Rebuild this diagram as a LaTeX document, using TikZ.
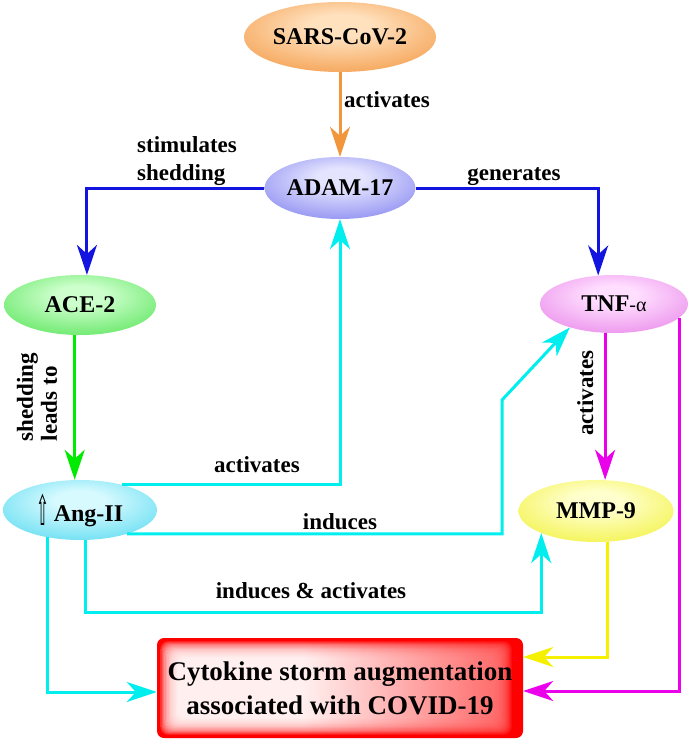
\documentclass[tikz,border=0pt]{standalone}
\usepackage{fontspec}
\setmainfont{Liberation Serif}
\newfontfamily\dejavu{DejaVu Sans}
\usetikzlibrary{shapes.geometric,arrows.meta}
\colorlet{ellin}{white}
\colorlet{ellout}{gray}
\pgfdeclareradialshading[ellin,ellout]{ellsh}{\pgfpoint{0bp}{9bp}}{color(0bp)=(ellin); color(8bp)=(ellin); color(40bp)=(ellout); color(70bp)=(ellout)}
\pgfdeclarehorizontalshading{boxsh}{100bp}{color(0bp)=(white); color(45bp)=(white); color(100bp)=(red)}
\definecolor{cOrange}{RGB}{242,150,60}
\definecolor{cBlue}{RGB}{20,20,225}
\definecolor{cGreen}{RGB}{0,235,0}
\definecolor{cCyan}{RGB}{0,238,238}
\definecolor{cMag}{RGB}{235,0,235}
\definecolor{cYel}{RGB}{245,240,0}
\definecolor{sarsIn}{RGB}{255,225,190}\definecolor{sarsOut}{RGB}{242,145,55}
\definecolor{adamIn}{RGB}{228,228,255}\definecolor{adamOut}{RGB}{120,120,238}
\definecolor{aceIn}{RGB}{205,255,205}\definecolor{aceOut}{RGB}{75,225,75}
\definecolor{tnfIn}{RGB}{255,222,255}\definecolor{tnfOut}{RGB}{230,125,230}
\definecolor{angIn}{RGB}{215,250,255}\definecolor{angOut}{RGB}{75,215,238}
\definecolor{mmpIn}{RGB}{255,255,205}\definecolor{mmpOut}{RGB}{240,240,45}
\newcommand\ndfont{\fontsize{24}{28}\selectfont\bfseries}
\newcommand\lbfont{\fontsize{23}{28}\selectfont\bfseries}
\newcommand\bxfont{\fontsize{27}{34}\selectfont\bfseries}
\tikzset{
  ell/.style n args={4}{ellipse, inner sep=0pt, minimum width=#1, minimum height=#2,
    shading=ellsh, /utils/exec={\colorlet{ellin}{#3}\colorlet{ellout}{#4}}, font=\ndfont},
  lbl/.style={inner sep=0pt, font=\lbfont},
  conn/.style={line width=3pt, -{Stealth[length=30pt,width=20pt,inset=9pt]}},
  boxst/.style={rectangle, rounded corners=7pt, fill=red, minimum width=366pt,
    minimum height=100pt, align=center, font=\bxfont, inner sep=0pt,
    path picture={
      \foreach \i in {1,...,14}{
        \shade[shading=boxsh, fill opacity=0.19, rounded corners=8pt]
          ([shift={(\i*1.4pt+2pt,-\i*1.3pt-2pt)}]path picture bounding box.north west)
          rectangle
          ([shift={(-\i*1.4pt-10pt,\i*1.3pt+2pt)}]path picture bounding box.south east);
      }
    }}
}
\begin{document}
\begin{tikzpicture}[x=1pt,y=-1pt]
\useasboundingbox (0,0) rectangle (693,745);
% nodes
\node[ell={192pt}{70pt}{sarsIn}{sarsOut}] (sars) at (340,37) {SARS-CoV-2};
\node[ell={150pt}{62pt}{adamIn}{adamOut}] (adam) at (340,188) {ADAM-17};
\node[ell={152pt}{60pt}{aceIn}{aceOut}] (ace) at (80,305) {ACE-2};
\node[ell={148pt}{58pt}{tnfIn}{tnfOut}] (tnf) at (614,304) {TNF{\mdseries\fontsize{20}{24}\selectfont-α}};
\node[ell={154pt}{60pt}{angIn}{angOut}] (ang) at (80,510) {{\mdseries\dejavu\fontsize{22}{24}\selectfont\raisebox{-4pt}{\scalebox{0.7}[1.9]{⇧}}}\,Ang-II};
\node[ell={155pt}{62pt}{mmpIn}{mmpOut}] (mmp) at (596,511) {MMP-9};
\node[boxst] (box) at (340,688) {Cytokine storm augmentation\\associated with COVID-19};
\coordinate (k1) at (502,400);
% connectors
\draw[conn, cOrange] (sars.south) -- (adam.north);
\draw[conn, cBlue] (adam.west) -| (ace.77);
\draw[conn, cBlue] (adam.east) -| (tnf.119);
\draw[conn, cGreen] (ace.-100) -- (ace.-100 |- ang.north);
\draw[conn, cCyan] (ang.31) -| (adam.south);
\draw[conn, cCyan] (ang.-27) -| (k1) -- (tnf.208);
\draw[conn, cCyan] (ang.-80) -- ++(0,72) -| (mmp.202);
\draw[conn, cCyan] (ang.220) |- ([yshift=-4pt]box.west);
\draw[conn, cYel] (mmp.-70) |- ([yshift=31pt]box.east);
\draw[conn, cMag] (tnf.-12) |- ([yshift=-3pt]box.east);
\draw[conn, cMag] (tnf.-107) -- (tnf.-107 |- mmp.north);
% labels
\node[lbl, anchor=base] (l1) at (387,107) {activates};
\node[lbl, anchor=west, align=left] (l2) at (137,161) {stimulates\\shedding};
\node[lbl, anchor=base] (l3) at (514,180) {generates};
\node[lbl, rotate=90, align=left, font=\fontsize{23}{24}\selectfont\bfseries] (l4) at (37,397) {shedding\\leads to};
\node[lbl, anchor=base] (l5) at (257,472) {activates};
\node[lbl, anchor=base] (l6) at (340,529) {induces};
\node[lbl, anchor=base] (l7) at (311,598) {induces \& activates};
\node[lbl, anchor=base, rotate=90] (l8) at (593,393) {activates};
\end{tikzpicture}
\end{document}
